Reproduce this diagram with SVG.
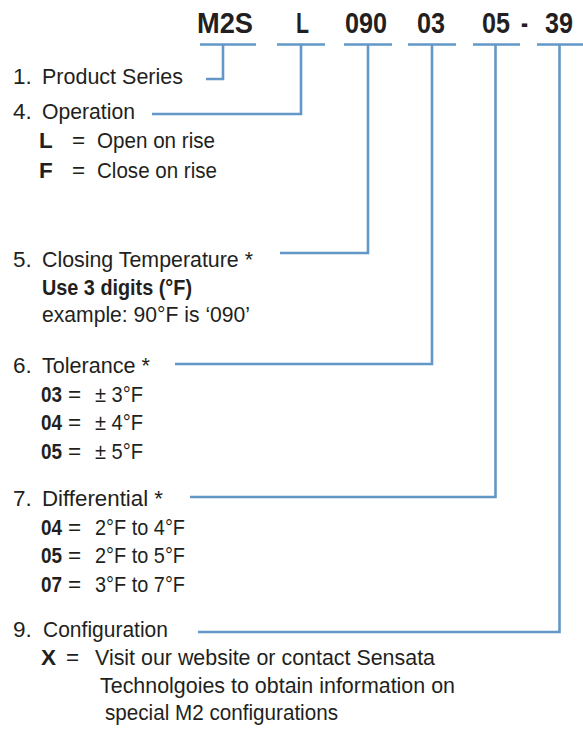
<svg xmlns="http://www.w3.org/2000/svg" width="583" height="730" viewBox="0 0 583 730">
<style>
.hd{font-family:"Liberation Sans",Arial,sans-serif;font-weight:bold;font-size:30px;fill:#231f20}
.t{font-family:"Liberation Sans",Arial,sans-serif;font-size:22.5px;fill:#231f20}
.b{font-weight:bold}
.c{fill:none;stroke:#6297c8;stroke-width:2.6}
</style>
<rect width="583" height="730" fill="#fff"/>
<g id="header">
<text class="hd" x="197" y="33" textLength="56" lengthAdjust="spacingAndGlyphs">M2S</text>
<text class="hd" x="296" y="33" textLength="13" lengthAdjust="spacingAndGlyphs">L</text>
<text class="hd" x="345" y="33" textLength="42" lengthAdjust="spacingAndGlyphs">090</text>
<text class="hd" x="417" y="33" textLength="28" lengthAdjust="spacingAndGlyphs">03</text>
<text class="hd" x="482" y="33" textLength="28" lengthAdjust="spacingAndGlyphs">05</text>
<text class="hd" x="521" y="33" textLength="7" lengthAdjust="spacingAndGlyphs">-</text>
<text class="hd" x="545" y="33" textLength="28" lengthAdjust="spacingAndGlyphs">39</text>
</g>
<g id="connectors">
<line class="c" x1="200" y1="44.5" x2="256" y2="44.5"/>
<path class="c" d="M223,44.5 V79 H206"/>
<line class="c" x1="277" y1="44.5" x2="325" y2="44.5"/>
<path class="c" d="M301,44.5 V114 H152"/>
<line class="c" x1="344" y1="44.5" x2="392" y2="44.5"/>
<path class="c" d="M368,44.5 V253 H280"/>
<line class="c" x1="408" y1="44.5" x2="456" y2="44.5"/>
<path class="c" d="M432,44.5 V364 H175"/>
<line class="c" x1="473" y1="44.5" x2="520" y2="44.5"/>
<path class="c" d="M495.5,44.5 V497 H190"/>
<line class="c" x1="537" y1="44.5" x2="583" y2="44.5"/>
<path class="c" d="M559.5,44.5 V632 H198"/>
</g>
<g id="product-series">
<text class="t" x="13" y="84">1.</text>
<text class="t" x="42" y="84" textLength="141" lengthAdjust="spacingAndGlyphs">Product Series</text>
</g>
<g id="operation">
<text class="t" x="13" y="119">4.</text>
<text class="t" x="42" y="119" textLength="93" lengthAdjust="spacingAndGlyphs">Operation</text>
<text class="t b" x="39" y="148">L</text>
<text class="t" x="72" y="148">=</text>
<text class="t" x="97" y="148" textLength="118" lengthAdjust="spacingAndGlyphs">Open on rise</text>
<text class="t b" x="39" y="178">F</text>
<text class="t" x="72" y="178">=</text>
<text class="t" x="97" y="178" textLength="120" lengthAdjust="spacingAndGlyphs">Close on rise</text>
</g>
<g id="closing-temperature">
<text class="t" x="13" y="266.5">5.</text>
<text class="t" x="42" y="266.5" textLength="211" lengthAdjust="spacingAndGlyphs">Closing Temperature *</text>
<text class="t b" x="42" y="295" textLength="150" lengthAdjust="spacingAndGlyphs">Use 3 digits (°F)</text>
<text class="t" x="42" y="321.5" textLength="208" lengthAdjust="spacingAndGlyphs">example: 90°F is ‘090’</text>
</g>
<g id="tolerance">
<text class="t" x="13" y="373">6.</text>
<text class="t" x="42" y="373" textLength="108" lengthAdjust="spacingAndGlyphs">Tolerance *</text>
<text class="t b" x="41" y="401.5" textLength="21" lengthAdjust="spacingAndGlyphs">03</text>
<text class="t" x="68" y="401.5">=</text>
<text class="t" x="95" y="401.5" textLength="48" lengthAdjust="spacingAndGlyphs">± 3°F</text>
<text class="t b" x="41" y="430" textLength="21" lengthAdjust="spacingAndGlyphs">04</text>
<text class="t" x="68" y="430">=</text>
<text class="t" x="95" y="430" textLength="48" lengthAdjust="spacingAndGlyphs">± 4°F</text>
<text class="t b" x="41" y="459" textLength="21" lengthAdjust="spacingAndGlyphs">05</text>
<text class="t" x="68" y="459">=</text>
<text class="t" x="95" y="459" textLength="48" lengthAdjust="spacingAndGlyphs">± 5°F</text>
</g>
<g id="differential">
<text class="t" x="13" y="506">7.</text>
<text class="t" x="42" y="506" textLength="121" lengthAdjust="spacingAndGlyphs">Differential *</text>
<text class="t b" x="41" y="535" textLength="21" lengthAdjust="spacingAndGlyphs">04</text>
<text class="t" x="68" y="535">=</text>
<text class="t" x="95" y="535" textLength="90" lengthAdjust="spacingAndGlyphs">2°F to 4°F</text>
<text class="t b" x="41" y="563" textLength="21" lengthAdjust="spacingAndGlyphs">05</text>
<text class="t" x="68" y="563">=</text>
<text class="t" x="95" y="563" textLength="90" lengthAdjust="spacingAndGlyphs">2°F to 5°F</text>
<text class="t b" x="41" y="592" textLength="21" lengthAdjust="spacingAndGlyphs">07</text>
<text class="t" x="68" y="592">=</text>
<text class="t" x="95" y="592" textLength="90" lengthAdjust="spacingAndGlyphs">3°F to 7°F</text>
</g>
<g id="configuration">
<text class="t" x="13" y="637">9.</text>
<text class="t" x="43" y="637" textLength="125" lengthAdjust="spacingAndGlyphs">Configuration</text>
<text class="t b" x="41" y="665">X</text>
<text class="t" x="66" y="665">=</text>
<text class="t" x="95" y="665" textLength="340" lengthAdjust="spacingAndGlyphs">Visit our website or contact Sensata</text>
<text class="t" x="100" y="693" textLength="355" lengthAdjust="spacingAndGlyphs">Technolgoies to obtain information on</text>
<text class="t" x="105" y="720" textLength="233" lengthAdjust="spacingAndGlyphs">special M2 configurations</text>
</g>
</svg>
